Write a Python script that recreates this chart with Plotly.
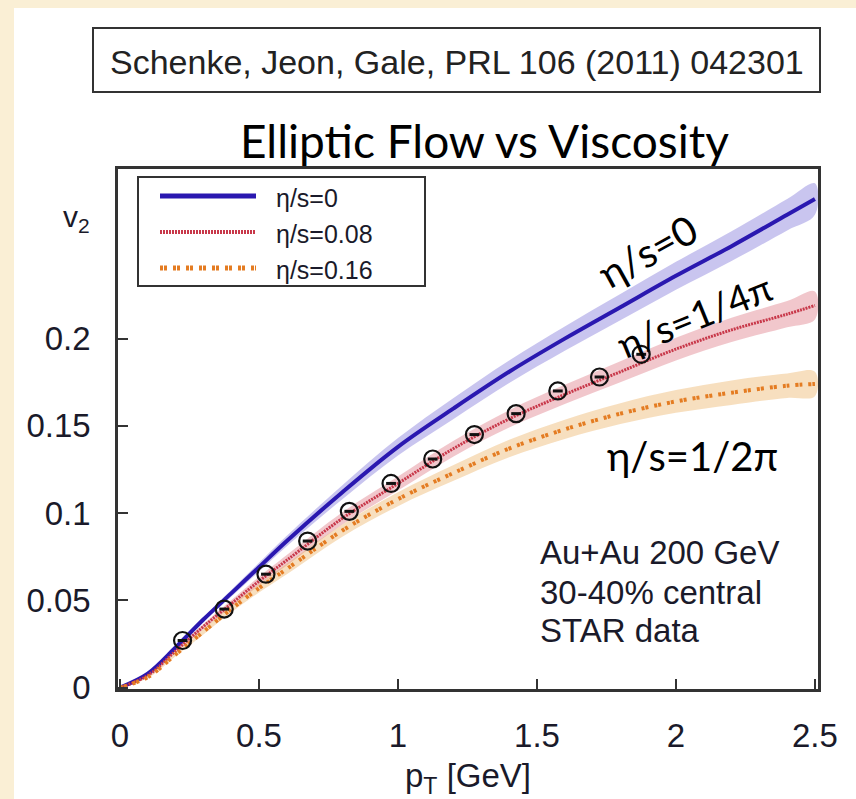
import plotly.graph_objects as go

# ---------------- data ----------------
pt = [0, 0.1, 0.2, 0.3, 0.4, 0.5, 0.6, 0.8, 1.0, 1.2, 1.4, 1.6, 1.8, 2.0, 2.2, 2.4, 2.5]

v2_ideal = [0, 0.008, 0.023, 0.039, 0.054, 0.069, 0.084, 0.112, 0.138, 0.160, 0.181, 0.200, 0.218, 0.236, 0.253, 0.271, 0.280]
hw_ideal = [0, 0.0005, 0.001, 0.0015, 0.002, 0.0025, 0.003, 0.004, 0.005, 0.006, 0.0065, 0.007, 0.0075, 0.008, 0.0085, 0.009, 0.009]

v2_008 = [0, 0.007, 0.021, 0.035, 0.048, 0.061, 0.073, 0.097, 0.117, 0.137, 0.154, 0.168, 0.181, 0.194, 0.205, 0.214, 0.219]
hw_008 = [0, 0.0005, 0.001, 0.0015, 0.002, 0.0025, 0.003, 0.0035, 0.004, 0.0045, 0.005, 0.0055, 0.006, 0.0065, 0.007, 0.0075, 0.008]

v2_016 = [0, 0.006, 0.019, 0.032, 0.045, 0.057, 0.068, 0.090, 0.108, 0.123, 0.137, 0.148, 0.157, 0.164, 0.169, 0.173, 0.174]
hw_016 = [0, 0.0005, 0.001, 0.0015, 0.002, 0.0025, 0.003, 0.0035, 0.004, 0.0045, 0.005, 0.0055, 0.006, 0.0065, 0.007, 0.007, 0.007]

star_pt = [0.225, 0.375, 0.525, 0.675, 0.825, 0.975, 1.125, 1.275, 1.425, 1.575, 1.725, 1.875]
star_v2 = [0.027, 0.045, 0.065, 0.084, 0.101, 0.117, 0.131, 0.145, 0.157, 0.170, 0.178, 0.191]

x_ticks = [0, 0.5, 1, 1.5, 2, 2.5]
x_ticklabels = ["0", "0.5", "1", "1.5", "2", "2.5"]
y_ticks = [0, 0.05, 0.1, 0.15, 0.2]
y_ticklabels = ["0", "0.05", "0.1", "0.15", "0.2"]

legend_labels = ["η/s=0", "η/s=0.08", "η/s=0.16"]

# ---------------- styling ----------------
W, H = 856, 799
L, R, T, B = 118, 38, 169, 110
PW, PH = W - L - R, H - T - B


def px(xp):
    return (xp - L) / PW


def py(yp):
    return (H - B - yp) / PH


series = [
    (v2_ideal, hw_ideal, "#2a18b0", "rgba(120,110,215,0.40)", "solid", 4),
    (v2_008, hw_008, "#c8384a", "rgba(215,95,110,0.35)", "2px,1px", 3),
    (v2_016, hw_016, "#e47c22", "rgba(235,175,95,0.40)", "3px,1px,3px,6px", 4),
]

fig = go.Figure()

for vals, hw, lc, bc, dash, lw in series:
    upper = [v + h for v, h in zip(vals, hw)]
    lower = [v - h for v, h in zip(vals, hw)]
    fig.add_trace(go.Scatter(
        x=pt + pt[::-1], y=upper + lower[::-1], mode="lines",
        line=dict(width=0, shape="spline"), fill="toself", fillcolor=bc,
        hoverinfo="skip", showlegend=False))

for vals, hw, lc, bc, dash, lw in series:
    fig.add_trace(go.Scatter(
        x=pt, y=vals, mode="lines",
        line=dict(color=lc, width=lw, dash=dash, shape="spline"),
        showlegend=False))

fig.add_trace(go.Scatter(
    x=star_pt, y=star_v2, mode="markers",
    marker=dict(symbol="circle-open", size=17, color="#111", line=dict(width=2.2, color="#111")),
    showlegend=False))
fig.add_trace(go.Scatter(
    x=star_pt, y=star_v2, mode="markers",
    marker=dict(symbol="line-ew", size=7, line=dict(width=3, color="#111")),
    showlegend=False))

shapes = []
# white page over cream slide background
shapes.append(dict(type="rect", xref="paper", yref="paper", layer="below",
                   x0=px(14), x1=px(W + 5), y0=py(H + 5), y1=py(8),
                   fillcolor="white", line=dict(width=0)))
# citation box
shapes.append(dict(type="rect", xref="paper", yref="paper",
                   x0=px(93), x1=px(820), y0=py(92), y1=py(28),
                   line=dict(color="#333", width=2)))
# legend box
shapes.append(dict(type="rect", xref="paper", yref="paper",
                   x0=px(138), x1=px(425), y0=py(286), y1=py(177),
                   line=dict(color="#333", width=2)))
legend_y = [196, 232, 268]
for (vals, hw, lc, bc, dash, lw), ly in zip(series, legend_y):
    shapes.append(dict(type="line", xref="paper", yref="paper",
                       x0=px(160), x1=px(256), y0=py(ly), y1=py(ly),
                       line=dict(color=lc, width=lw + 1, dash=dash)))

annotations = []
for lab, ly in zip(legend_labels, legend_y):
    annotations.append(dict(text=lab, xref="paper", yref="paper", x=px(274), y=py(ly + 2),
                            xanchor="left", yanchor="middle", showarrow=False,
                            font=dict(family="Liberation Sans, Arial", size=25, color="#1a1a2a")))

annotations += [
    dict(text="Schenke, Jeon, Gale, PRL 106 (2011) 042301", xref="paper", yref="paper",
         x=px(457), y=py(62), xanchor="center", yanchor="middle", showarrow=False,
         font=dict(family="Liberation Sans, Arial", size=34, color="#222")),
    dict(text="Elliptic Flow vs Viscosity", xref="paper", yref="paper",
         x=px(484), y=py(140), xanchor="center", yanchor="middle", showarrow=False,
         font=dict(family="Lato", size=46, color="#000")),
    dict(text="v<sub>2</sub>", xref="paper", yref="paper", x=px(76), y=py(218),
         xanchor="center", yanchor="middle", showarrow=False,
         font=dict(family="Liberation Sans, Arial", size=30, color="#1a1a2a")),
    dict(text="p<sub>T</sub> [GeV]", xref="paper", yref="paper", x=px(468), y=py(778),
         xanchor="center", yanchor="middle", showarrow=False,
         font=dict(family="Liberation Sans, Arial", size=33, color="#1a1a2a")),
    dict(text="η/s=0", xref="x", yref="y", x=(648 - 120) / 278, y=(690 - 253) / 1745,
         textangle=-29, showarrow=False, font=dict(family="Lato", size=40, color="#000")),
    dict(text="η/s=1/4π", xref="x", yref="y", x=(695 - 120) / 278, y=(690 - 317) / 1745,
         textangle=-22, showarrow=False, font=dict(family="Lato", size=38, color="#000")),
    dict(text="η/s=1/2π", xref="x", yref="y", x=(693 - 120) / 278, y=(690 - 458) / 1745,
         showarrow=False, font=dict(family="Lato", size=40, color="#000")),
]
for txt, yp in zip(["Au+Au 200 GeV", "30-40% central", "STAR data"], [555, 595, 633]):
    annotations.append(dict(text=txt, xref="x", yref="y", x=(538 - 120) / 278, y=(690 - yp) / 1745,
                            xanchor="left", yanchor="middle", showarrow=False,
                            font=dict(family="Liberation Sans, Arial", size=33, color="#1a1a2a")))

axis_common = dict(showline=True, linecolor="#333", linewidth=2.5, mirror=True,
                   ticks="inside", ticklen=10, tickwidth=2, tickcolor="#333",
                   showgrid=False, zeroline=False,
                   tickfont=dict(family="Liberation Sans, Arial", size=33, color="#1a1a2a"))

fig.update_layout(
    width=W, height=H,
    margin=dict(l=L, r=R, t=T, b=B),
    paper_bgcolor="#faefd5", plot_bgcolor="white",
    xaxis=dict(range=[-0.0072, 2.511], tickvals=x_ticks, ticktext=x_ticklabels,
               ticklabelstandoff=16, **axis_common),
    yaxis=dict(range=[-0.0008, 0.2972], tickvals=y_ticks, ticktext=y_ticklabels,
               ticklabelstandoff=18, **axis_common),
    shapes=shapes, annotations=annotations, showlegend=False,
)

fig.write_html("out.html")
